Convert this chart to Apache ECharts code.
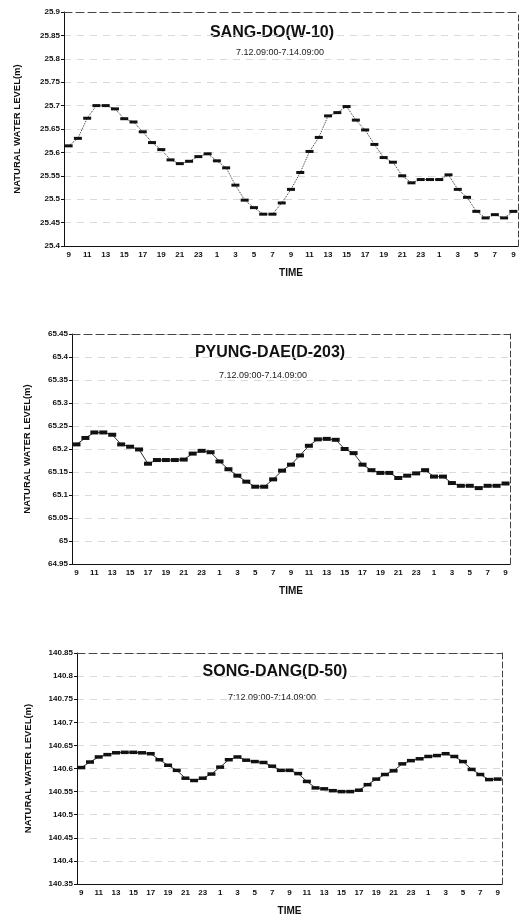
<!DOCTYPE html>
<html>
<head>
<meta charset="utf-8">
<script src="https://cdn.jsdelivr.net/npm/echarts@6/dist/echarts.min.js"></script>
<style>
  html, body { margin: 0; padding: 0; background: #fff; }
  #main { width: 521px; height: 917px; }
</style>
</head>
<body>
<div id="main"></div>
<script>
// hourly readings, 7/12 09:00 -> 7/14 09:00
const hours = ['9','10','11','12','13','14','15','16','17','18','19','20','21','22','23','0',
  '1','2','3','4','5','6','7','8','9','10','11','12','13','14','15','16','17','18','19','20','21','22','23','0',
  '1','2','3','4','5','6','7','8','9'];

const sangdo = [25.614,25.630,25.673,25.700,25.700,25.693,25.672,25.665,25.644,25.621,25.606,25.584,25.576,25.581,25.591,25.597,
  25.582,25.567,25.530,25.498,25.482,25.468,25.468,25.492,25.521,25.557,25.602,25.632,25.678,25.685,25.698,25.669,
  25.648,25.617,25.589,25.579,25.550,25.535,25.542,25.542,25.542,25.552,25.521,25.504,25.474,25.460,25.467,25.460,25.474];

const pyungdae = [65.210,65.224,65.236,65.236,65.231,65.210,65.205,65.199,65.168,65.176,65.176,65.176,65.177,65.190,65.196,65.193,
  65.173,65.156,65.142,65.129,65.118,65.118,65.134,65.153,65.166,65.186,65.207,65.221,65.222,65.220,65.200,65.191,
  65.166,65.154,65.148,65.148,65.137,65.142,65.147,65.154,65.140,65.140,65.126,65.120,65.120,65.115,65.120,65.120,65.125];

const songdang = [140.602,140.614,140.625,140.630,140.634,140.635,140.635,140.634,140.632,140.619,140.607,140.596,140.579,140.574,140.579,140.588,
  140.603,140.619,140.625,140.618,140.615,140.613,140.605,140.596,140.596,140.589,140.572,140.558,140.556,140.552,140.550,140.550,
  140.553,140.565,140.577,140.587,140.595,140.610,140.617,140.621,140.626,140.628,140.632,140.626,140.615,140.598,140.587,140.576,140.577];

const yRange1 = [25.4, 25.9];
const yRange2 = [64.95, 65.45];
const yRange3 = [140.35, 140.85];

const titles = ['SANG-DO(W-10)', 'PYUNG-DAE(D-203)', 'SONG-DANG(D-50)'];
const subtitles = ['7.12.09:00-7.14.09:00', '7.12.09:00-7.14.09:00', '7:12.09:00-7:14.09:00'];

const FONT = '"Liberation Sans", Arial, sans-serif';

// panel boxes (px)
const panels = [
  { left: 64, top: 12, width: 454, height: 234, yr: yRange1, data: sangdo, nameGap: 42, tx: 272, ty: 33, sx: 280, sy: 53, lineType: 'dotted', sym: [8, 3] },
  { left: 72, top: 334, width: 438, height: 230, yr: yRange2, data: pyungdae, nameGap: 40, tx: 270, ty: 353, sx: 263, sy: 376, lineType: 'solid', sym: [8, 4] },
  { left: 77, top: 653, width: 425, height: 231, yr: yRange3, data: songdang, nameGap: 44, tx: 275, ty: 672, sx: 272, sy: 698, lineType: 'solid', sym: [8, 3.5] }
];

const grid = [], xAxis = [], yAxis = [], series = [], graphic = [];

panels.forEach((p, k) => {
  grid.push({ left: p.left, top: p.top, width: p.width, height: p.height });

  // bottom axis
  xAxis.push({
    type: 'category', gridIndex: k, data: hours, boundaryGap: true,
    name: 'TIME', nameLocation: 'middle', nameGap: 22,
    nameTextStyle: { fontFamily: FONT, fontWeight: 'bold', fontSize: 10, color: '#111' },
    axisLine: { lineStyle: { color: '#111', width: 1 } },
    axisTick: { alignWithLabel: true, inside: true, length: 2, interval: 0, lineStyle: { color: '#333' } },
    axisLabel: { interval: 1, fontFamily: FONT, fontWeight: 'bold', fontSize: 8, color: '#111', margin: 5 }
  });
  // top border (dashed)
  xAxis.push({
    type: 'category', gridIndex: k, data: hours, position: 'top',
    axisLine: { lineStyle: { color: '#444', width: 1, type: [8, 4] } },
    axisTick: { show: false }, axisLabel: { show: false }, splitLine: { show: false }
  });

  yAxis.push({
    type: 'value', gridIndex: k, min: p.yr[0], max: p.yr[1], interval: 0.05,
    name: 'NATURAL WATER LEVEL(m)', nameLocation: 'middle', nameGap: p.nameGap,
    nameTextStyle: { fontFamily: FONT, fontWeight: 'bold', fontSize: 9.5, color: '#111' },
    axisLine: { show: true, lineStyle: { color: '#111', width: 1 } },
    axisTick: { show: true, length: 3, lineStyle: { color: '#111' } },
    axisLabel: {
      fontFamily: FONT, fontWeight: 'bold', fontSize: 8, color: '#111', margin: 4,
      formatter: v => String(+v.toFixed(2))
    },
    splitLine: { show: true, lineStyle: { color: '#d0d0d0', width: 0.8, type: [7, 6] } }
  });
  // right border (dashed)
  yAxis.push({
    type: 'value', gridIndex: k, min: p.yr[0], max: p.yr[1], interval: 0.05, position: 'right',
    axisLine: { show: true, lineStyle: { color: '#444', width: 1, type: [6, 3] } },
    axisTick: { show: false }, axisLabel: { show: false }, splitLine: { show: false }
  });

  series.push({
    type: 'line', xAxisIndex: 2 * k, yAxisIndex: 2 * k, data: p.data,
    symbol: 'rect', symbolSize: p.sym, showSymbol: true,
    itemStyle: { color: '#111' },
    lineStyle: { color: '#333', width: 1, type: p.lineType },
    animation: false, silent: true
  });

  graphic.push({
    type: 'text', x: p.tx, y: p.ty,
    style: { text: titles[k], font: 'bold 16px ' + FONT, fill: '#111', align: 'center', verticalAlign: 'middle' }
  });
  graphic.push({
    type: 'text', x: p.sx, y: p.sy,
    style: { text: subtitles[k], font: '9px ' + FONT, fill: '#222', align: 'center', verticalAlign: 'middle' }
  });
});

const option = {
  backgroundColor: '#fff',
  animation: false,
  grid: grid,
  xAxis: xAxis,
  yAxis: yAxis,
  series: series,
  graphic: graphic
};

var chartDom = document.getElementById('main');
var myChart = echarts.init(chartDom);
option && myChart.setOption(option);
</script>
</body>
</html>
